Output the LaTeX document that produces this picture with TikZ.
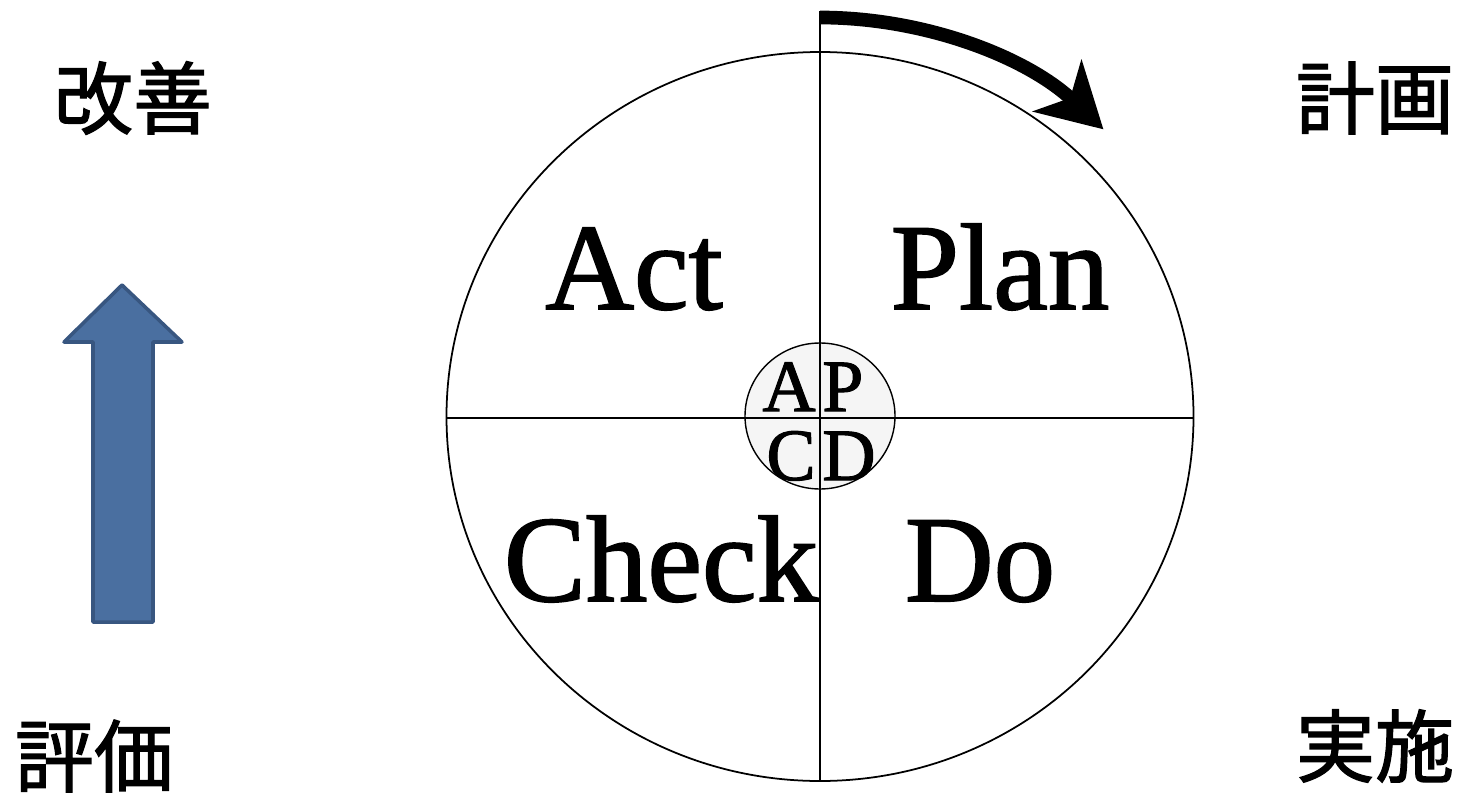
\documentclass[tikz,border=0pt]{standalone}
\usepackage{fontspec}
\setmainfont{Liberation Serif}
\newfontfamily\phasefont[FakeBold=1.4]{Liberation Serif}
\newfontfamily\jpfont[FakeBold=1.6]{Noto Sans CJK JP}
\usepackage{tikz}
\usetikzlibrary{arrows.meta}
\definecolor{upfill}{RGB}{74,111,160}
\definecolor{upedge}{RGB}{56,86,128}

\begin{document}
\begin{tikzpicture}[x=0.02cm, y=-0.02cm,
  phase/.style={font=\phasefont\fontsize{70}{70}\selectfont, inner sep=0pt, anchor=base},
  letter/.style={font=\phasefont\fontsize{42}{42}\selectfont, inner sep=0pt},
  jlabel/.style={font=\jpfont\fontsize{45}{45}\selectfont, inner sep=0pt},
  axis/.style={line width=0.8pt},
  turn/.style={line width=7.8pt, -{Stealth[length=36pt, width=40pt, inset=10pt]}},
  uparrow/.style={draw=upedge, fill=upfill, line width=2pt, line join=round}]
  \useasboundingbox (0,0) rectangle (1459,794);
  \draw[line width=1pt] (820,416.5) ellipse[x radius=373.5, y radius=364.5];
  \draw[axis, fill=black!4] (820,416) ellipse[x radius=75, y radius=73];
  \coordinate (top) at (820,11);
  \coordinate (bottom) at (820,781);
  \coordinate (left) at (446,418);
  \coordinate (right) at (1193,418);
  \coordinate (arcstart) at (820,17.5);
  \draw[axis] (top) -- (bottom);
  \draw[axis] (left) -- (right);
  \draw[turn] (arcstart) arc[start angle=-90, end angle=-46, x radius=408, y radius=398.5];
  \node[phase] (act) at (634,309) {Act};
  \node[phase] (plan) at (1000,309) {Plan};
  \node[phase] (check) at (661,601) {Check};
  \node[phase] (do) at (980,601) {Do};
  \node[letter, anchor=base east] (a) at (816,411) {A};
  \node[letter, anchor=base west] (p) at (822,411) {P};
  \node[letter, anchor=base east] (c) at (816,480) {C};
  \node[letter, anchor=base west] (d) at (822,480) {D};
  \draw[uparrow] (93,622) -- (93,342) -- (64,342) -- (122,285) -- (182,342) -- (153,342) -- (153,622) -- cycle;
  \node[jlabel] (kaizen) at (133,98) {改善};
  \node[jlabel] (keikaku) at (1375,98) {計画};
  \node[jlabel] (hyoka) at (94,756) {評価};
  \node[jlabel] (jisshi) at (1375,746) {実施};
\end{tikzpicture}
\end{document}
